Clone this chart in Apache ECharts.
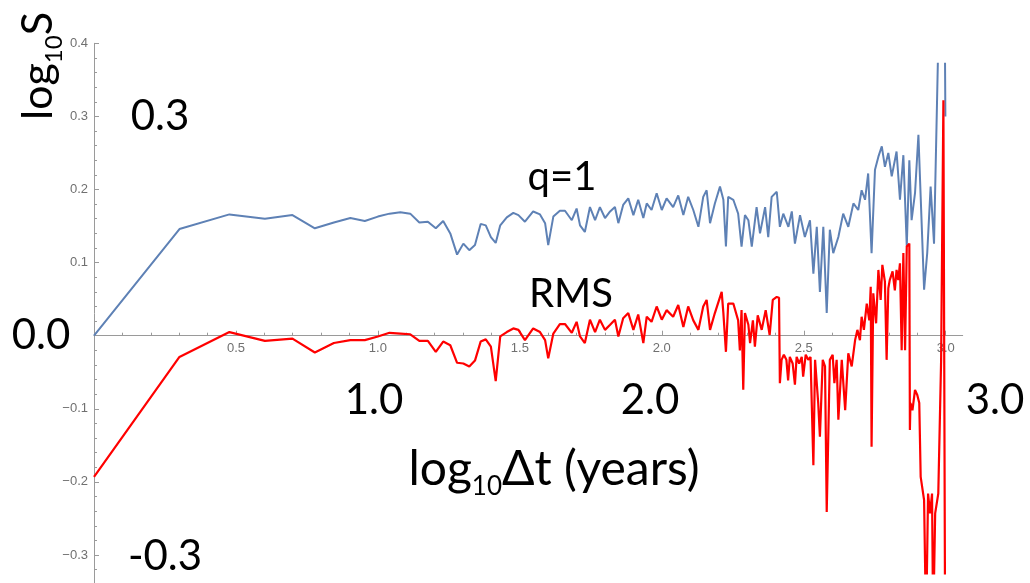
<!DOCTYPE html>
<html><head><meta charset="utf-8">
<script src="https://cdn.jsdelivr.net/npm/echarts@6/dist/echarts.min.js"></script>
<style>html,body{margin:0;padding:0;background:#fff}#c{width:1030px;height:583px}</style>
</head><body><div id="c"></div>
<script>
// log10 Δt (years) positions and log10 S values, q=1 series
const qX = [0,0.301,0.477,0.602,0.699,0.778,0.845,0.903,0.954,1.000,1.041,1.079,1.114,1.146,1.176,1.204,1.230,1.255,1.279,1.301,1.322,1.342,1.362,1.380,1.398,1.415,1.431,1.454,1.477,1.495,1.518,1.547,1.571,1.589,1.600,1.618,1.641,1.659,1.683,1.700,1.712,1.729,1.747,1.765,1.782,1.800,1.818,1.835,1.847,1.864,1.882,1.900,1.917,1.935,1.947,1.964,1.982,2.000,2.017,2.040,2.058,
2.076,2.093,2.111,2.129,2.146,2.158,2.170,2.187,2.205,2.217,2.226,2.234,2.252,2.269,2.281,2.293,2.305,2.317,2.334,2.346,2.364,2.375,2.387,2.405,2.416,2.428,2.446,2.458,2.469,2.487,2.504,2.522,2.534,2.546,2.557,2.569,2.581,2.592,2.604,2.622,2.639,2.657,2.675,2.692,2.704,2.716,2.727,2.739,2.751,2.763,2.775,2.786,2.798,2.810,2.827,2.839,2.851,2.863,2.872,2.880,2.892,2.904,2.912,2.924,2.935,2.947,2.959,2.975,2.997,2.999];
const qY = [0,0.146,0.166,0.160,0.165,0.147,0.155,0.161,0.157,0.163,0.167,0.169,0.167,0.155,0.156,0.147,0.157,0.140,0.111,0.126,0.117,0.124,0.153,0.151,0.135,0.127,0.151,0.162,0.168,0.165,0.156,0.170,0.166,0.154,0.124,0.163,0.171,0.171,0.158,0.174,0.151,0.142,0.176,0.158,0.176,0.161,0.170,0.176,0.154,0.179,0.188,0.165,0.186,0.161,0.181,0.172,0.195,0.172,0.188,0.176,0.192,
0.165,0.190,0.172,0.149,0.190,0.199,0.154,0.181,0.204,0.186,0.122,0.190,0.186,0.167,0.122,0.165,0.158,0.122,0.176,0.140,0.176,0.135,0.190,0.197,0.149,0.167,0.149,0.170,0.126,0.165,0.135,0.158,0.085,0.149,0.060,0.149,0.031,0.145,0.113,0.135,0.167,0.149,0.181,0.172,0.199,0.186,0.222,0.113,0.227,0.245,0.259,0.231,0.250,0.218,0.252,0.186,0.247,0.122,0.240,0.158,0.195,0.275,0.190,0.063,0.113,0.204,0.126,0.42,0.42,0.30];

// RMS series
const rmsX = [0,0.301,0.477,0.602,0.699,0.778,0.845,0.903,0.954,1.000,1.041,1.079,1.114,1.146,1.176,1.204,1.230,1.255,1.279,1.301,1.322,1.342,1.362,1.380,1.398,1.415,1.431,1.454,1.477,1.495,1.518,1.547,1.571,1.589,1.600,1.618,1.641,1.659,1.683,1.700,1.712,1.729,1.747,1.765,1.782,1.800,1.818,1.835,1.847,1.864,1.882,1.900,1.917,1.935,1.947,1.964,1.982,2.000,2.017,2.040,2.058,
2.076,2.093,2.111,2.129,2.146,2.158,2.170,2.187,2.211,2.217,2.226,2.234,2.252,2.269,2.275,2.281,2.287,2.293,2.305,2.311,2.321,2.328,2.338,2.352,2.366,2.380,2.391,2.405,2.413,2.416,2.422,2.430,2.439,2.445,2.451,2.461,2.469,2.475,2.484,2.493,2.498,2.507,2.516,2.524,2.534,2.540,2.551,2.557,2.567,2.575,2.581,2.592,2.602,2.608,2.616,2.622,2.634,2.646,2.657,2.669,2.681,2.689,2.698,2.704,2.712,2.722,2.731,2.736,2.739,2.745,2.755,2.763,2.771,2.777,2.786,2.792,2.798,2.803,2.813,2.821,2.827,2.833,2.839,2.845,2.851,2.857,2.863,2.872,2.874,2.876,2.883,2.892,2.900,2.907,2.912,2.919,2.924,2.931,2.938,2.945,2.952,2.956,2.963,2.974,2.984,2.986,2.992,2.998];
const rmsY = [-0.193,-0.029,0.005,-0.007,-0.004,-0.023,-0.010,-0.006,-0.006,-0.001,0.004,0.003,0.002,-0.007,-0.007,-0.022,-0.008,-0.013,-0.037,-0.038,-0.042,-0.034,-0.008,-0.005,-0.015,-0.062,-0.001,0.005,0.010,0.008,-0.006,0.010,0.005,-0.006,-0.031,0.003,0.016,0.016,0.004,0.019,-0.001,-0.010,0.022,0.005,0.022,0.008,0.015,0.022,-0.001,0.024,0.031,0.008,0.029,-0.010,0.026,0.019,0.040,0.022,0.035,0.026,0.042,
0.012,0.040,0.021,0.008,0.040,0.049,0.008,0.031,0.060,0.031,-0.022,0.044,0.044,0.021,-0.020,0.035,-0.074,0.031,0.015,-0.010,0.021,-0.015,0.028,0.008,0.035,0.001,0.049,0.053,0.052,-0.065,-0.033,-0.026,-0.033,-0.061,-0.029,-0.038,-0.067,-0.029,-0.038,-0.029,-0.056,-0.026,-0.033,-0.029,-0.177,-0.033,-0.092,-0.138,-0.033,-0.042,-0.241,-0.033,-0.026,-0.065,-0.033,-0.115,-0.033,-0.102,-0.024,-0.042,-0.006,0.008,-0.006,0.026,0.008,0.044,0.021,0.067,-0.152,0.058,0.017,0.090,0.049,0.097,0.074,-0.033,0.065,0.076,0.088,0.062,0.090,0.076,0.099,-0.020,0.113,-0.020,0.122,0.126,-0.129,-0.092,-0.102,-0.074,-0.081,-0.092,-0.193,-0.193,-0.225,-0.40,-0.216,-0.243,-0.216,-0.40,-0.243,-0.216,-0.033,0.058,0.322,-0.40];

// overlay labels
const bigLabels = ['0.3', '0.0', '-0.3', '1.0', '2.0', '3.0', 'q=1', 'RMS'];

const pair = (xs, ys) => xs.slice(0, Math.min(xs.length, ys.length)).map((x, i) => [x, ys[i]]);

const chart = echarts.init(document.getElementById('c'), null, {renderer: 'canvas'});
const axisGray = '#9a9a9a';
const labelGray = '#707070';
const bigFont = 'Lato';

function txt(x, y, s, size) {
  return {type: 'text', x: x, y: y, z: 100,
    style: {text: s, fontSize: size, fontFamily: bigFont, fill: '#000', align: 'center', verticalAlign: 'middle'}};
}

chart.setOption({
  animation: false,
  backgroundColor: '#fff',
  grid: [
    {left: 94, width: 851.7, top: 43.3, height: 584.8, outerBoundsMode: 'none', containLabel: false},
    {left: 94, width: 868.7, top: 63.8, height: 509.5, outerBoundsMode: 'none', containLabel: false}
  ],
  xAxis: [
    {gridIndex: 0, type: 'value', min: 0, max: 3, interval: 0.5, position: 'bottom', offset: -292.4,
     axisLine: {show: false, onZero: false},
     axisTick: {show: true, inside: true, length: 5, lineStyle: {color: axisGray, width: 1}},
     minorTick: {show: true, splitNumber: 5, length: 3, lineStyle: {color: axisGray, width: 1}},
     splitLine: {show: false},
     axisLabel: {color: labelGray, fontSize: 13, fontFamily: 'Liberation Sans', margin: 6,
       formatter: v => (Math.abs(v) < 1e-9 ? '' : v.toFixed(1))}},
    {gridIndex: 1, type: 'value', min: 0, max: 3.06,
     axisLine: {show: true, onZero: true, lineStyle: {color: axisGray, width: 1}},
     axisTick: {show: false}, axisLabel: {show: false}, splitLine: {show: false}}
  ],
  yAxis: [
    {gridIndex: 0, type: 'value', min: -0.4, max: 0.4, interval: 0.1, position: 'left',
     axisLine: {show: true, onZero: false, lineStyle: {color: axisGray, width: 1}},
     axisTick: {show: true, inside: true, length: 5, lineStyle: {color: axisGray, width: 1}},
     minorTick: {show: true, splitNumber: 5, length: 3, lineStyle: {color: axisGray, width: 1}},
     splitLine: {show: false},
     axisLabel: {color: labelGray, fontSize: 13, fontFamily: 'Liberation Sans', margin: 6,
       formatter: v => (Math.abs(v) < 1e-9 ? '' : (v < 0 ? '\u2212' : '') + Math.abs(v).toFixed(1))}},
    {gridIndex: 1, type: 'value', min: -0.325, max: 0.372, show: false, splitLine: {show: false}}
  ],
  series: [
    {name: 'q=1', type: 'line', xAxisIndex: 1, yAxisIndex: 1, data: pair(qX, qY),
     showSymbol: false, symbol: 'none', clip: true, lineStyle: {color: '#5E81B5', width: 2}, z: 2},
    {name: 'RMS', type: 'line', xAxisIndex: 1, yAxisIndex: 1, data: pair(rmsX, rmsY),
     showSymbol: false, symbol: 'none', clip: true, lineStyle: {color: '#FF0000', width: 2.2}, z: 3}
  ],
  graphic: [
    txt(160, 116, bigLabels[0], 42),
    txt(41, 335, bigLabels[1], 42),
    txt(165, 556, bigLabels[2], 42),
    txt(374, 400, bigLabels[3], 42),
    txt(650, 400, bigLabels[4], 42),
    txt(995, 400, bigLabels[5], 42),
    txt(562, 177, bigLabels[6], 40),
    txt(571, 294, bigLabels[7], 40),
    {type: 'text', x: 554, y: 470, z: 100,
     style: {text: '{a|log}{b|10}{a|\u0394t (years)}', align: 'center', verticalAlign: 'middle', fill: '#000',
       rich: {a: {fontSize: 48, fontFamily: bigFont, lineHeight: 60, fill: '#000'},
              b: {fontSize: 26, fontFamily: bigFont, lineHeight: 32, verticalAlign: 'bottom', fill: '#000'}}}},
    {type: 'text', x: 38, y: 66, rotation: Math.PI / 2, z: 100,
     style: {text: '{a|log}{b|10}{a|S}', align: 'center', verticalAlign: 'middle', fill: '#000',
       rich: {a: {fontSize: 43, fontFamily: bigFont, lineHeight: 56, fill: '#000'},
              b: {fontSize: 24, fontFamily: bigFont, lineHeight: 30, verticalAlign: 'bottom', fill: '#000'}}}}
  ]
});
</script></body></html>
